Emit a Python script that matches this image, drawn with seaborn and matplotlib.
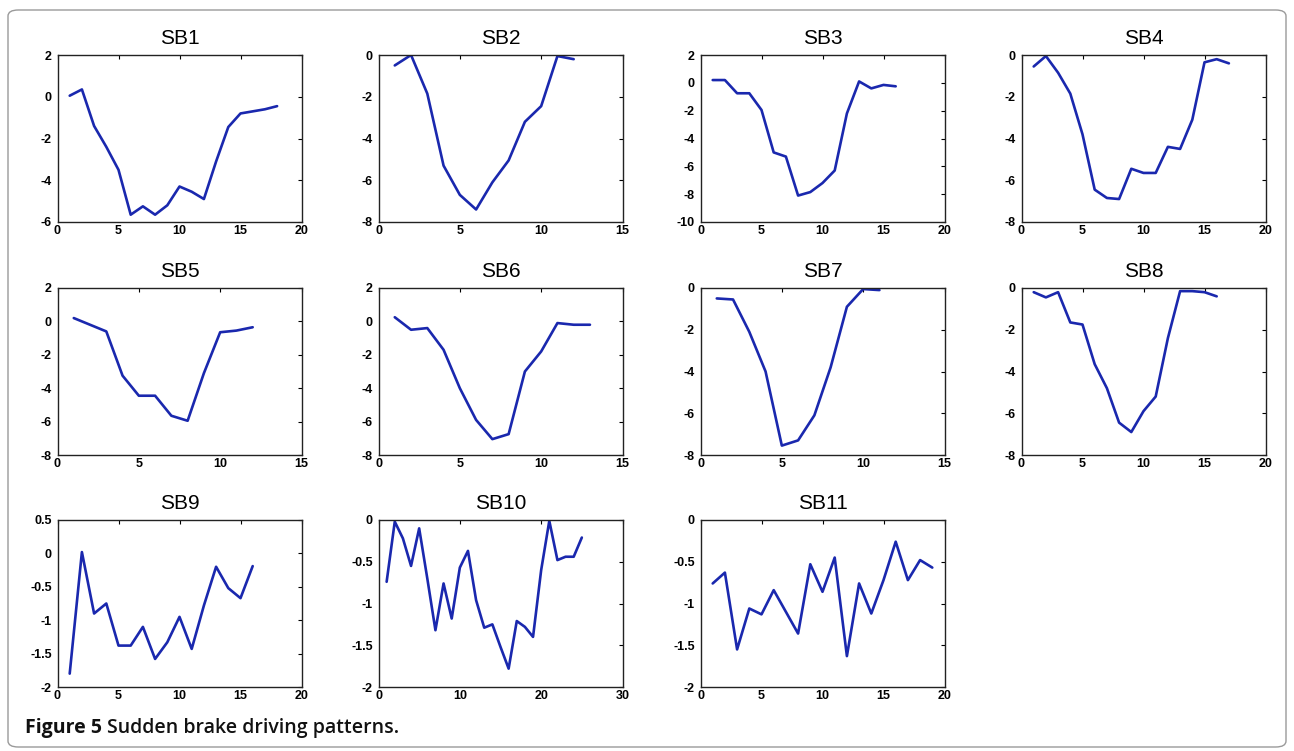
import numpy as np
import pandas as pd
import matplotlib
matplotlib.use("Agg")
import matplotlib.pyplot as plt
from matplotlib.patches import FancyBboxPatch
from matplotlib.ticker import FormatStrFormatter, MultipleLocator
import seaborn as sns

# Deceleration profiles of eleven sudden-brake events
sb1 = [0.05, 0.35, -1.4, -2.4, -3.5, -5.65, -5.25, -5.65, -5.2, -4.3, -4.55, -4.9,
       -3.1, -1.45, -0.8, -0.7, -0.6, -0.45]
sb2 = [-0.5, 0.0, -1.85, -5.3, -6.7, -7.4, -6.1, -5.05, -3.2, -2.45, -0.05, -0.2]
sb3 = [0.2, 0.2, -0.75, -0.75, -1.95, -5.0, -5.3, -8.1, -7.85, -7.2, -6.3, -2.2,
       0.1, -0.4, -0.15, -0.25]
sb4 = [-0.55, -0.05, -0.85, -1.85, -3.8, -6.45, -6.85, -6.9, -5.45, -5.65, -5.65,
       -4.4, -4.5, -3.1, -0.35, -0.2, -0.4]
sb5 = [0.2, -0.2, -0.6, -3.25, -4.45, -4.45, -5.65, -5.95, -3.1, -0.65, -0.55, -0.35]
sb6 = [0.25, -0.5, -0.4, -1.7, -4.0, -5.9, -7.05, -6.75, -3.0, -1.8, -0.1, -0.2, -0.2]
sb7 = [-0.5, -0.55, -2.1, -4.0, -7.55, -7.3, -6.1, -3.8, -0.9, -0.05, -0.1]
sb8 = [-0.2, -0.45, -0.2, -1.65, -1.75, -3.65, -4.8, -6.45, -6.9, -5.9, -5.2, -2.4,
       -0.15, -0.15, -0.2, -0.4]
sb9 = [-1.8, 0.02, -0.9, -0.75, -1.38, -1.38, -1.1, -1.58, -1.33, -0.95, -1.43,
       -0.78, -0.2, -0.52, -0.67, -0.19]
sb10 = [-0.74, -0.02, -0.22, -0.55, -0.1, -0.7, -1.32, -0.76, -1.18, -0.57, -0.37,
        -0.96, -1.29, -1.25, -1.52, -1.78, -1.21, -1.28, -1.4, -0.6, -0.01, -0.48,
        -0.44, -0.44, -0.21]
sb11 = [-0.76, -0.63, -1.55, -1.06, -1.13, -0.84, -1.1, -1.36, -0.53, -0.86, -0.45,
        -1.63, -0.76, -1.12, -0.72, -0.26, -0.72, -0.48, -0.57]

titles = ["SB1", "SB2", "SB3", "SB4", "SB5", "SB6", "SB7", "SB8", "SB9", "SB10", "SB11"]
series = [sb1, sb2, sb3, sb4, sb5, sb6, sb7, sb8, sb9, sb10, sb11]
x_max = [20, 15, 20, 20, 15, 15, 15, 20, 20, 30, 20]
y_lims = [(-6, 2), (-8, 0), (-10, 2), (-8, 0), (-8, 2), (-8, 2), (-8, 0), (-8, 0),
          (-2, 0.5), (-2, 0), (-2, 0)]
caption_bold = "Figure 5"
caption_text = "Sudden brake driving patterns."

sns.set_style("white")
plt.rcParams["font.family"] = ["Liberation Sans", "DejaVu Sans"]
plt.rcParams["axes.unicode_minus"] = False

W, H = 1294, 751
fig = plt.figure(figsize=(W / 100, H / 100), dpi=100)
fig.patch.set_facecolor("white")

col_left = [57.5, 378.5, 700.5, 1021.5]
row_top = [55, 288, 520]
ax_w, ax_h = 244, 167

line_color = "#1a28ae"

for i, (name, vals) in enumerate(zip(titles, series)):
    r, c = divmod(i, 4)
    left = col_left[c] / W
    bottom = 1 - (row_top[r] + ax_h) / H
    ax = fig.add_axes([left, bottom, ax_w / W, ax_h / H])
    df = pd.DataFrame({"t": np.arange(1, len(vals) + 1), "v": vals})
    sns.lineplot(data=df, x="t", y="v", ax=ax, color=line_color, linewidth=1.9)
    ax.set_xlim(0, x_max[i])
    ax.set_ylim(*y_lims[i])
    ax.xaxis.set_major_locator(MultipleLocator(10 if x_max[i] == 30 else 5))
    ystep = 0.5 if y_lims[i][0] == -2 else 2
    ax.yaxis.set_major_locator(MultipleLocator(ystep))
    ax.yaxis.set_major_formatter(FormatStrFormatter("%g"))
    ax.xaxis.set_major_formatter(FormatStrFormatter("%g"))
    ax.set_xlabel("")
    ax.set_ylabel("")
    ax.set_title(name, fontsize=15, pad=8, color="black")
    ax.tick_params(direction="in", length=3, width=0.8, top=True, right=True,
                   labelsize=9, colors="black", pad=2)
    ax.tick_params(axis="y", pad=4)
    for lbl in ax.get_xticklabels() + ax.get_yticklabels():
        lbl.set_fontweight("semibold")
    for sp in ax.spines.values():
        sp.set_visible(True)
        sp.set_color("#222222")
        sp.set_linewidth(1.0)

# Caption: bold label followed by the description
cap_y = 1 - 728 / H
t1 = fig.text(25 / W, cap_y, caption_bold, fontsize=14, fontweight="bold",
              family=["Open Sans", "DejaVu Sans"], va="center", ha="left", color="#111111")
renderer = fig.canvas.get_renderer()
bb = t1.get_window_extent(renderer=renderer)
fig.text((bb.x1 + 5) / W, cap_y, caption_text, fontsize=14, fontweight="semibold",
         family=["Open Sans", "DejaVu Sans"], va="center", ha="left", color="#111111")

# Rounded outer frame
frame = FancyBboxPatch((8 / W, 4 / H), (W - 16) / W, (H - 14) / H,
                       boxstyle="round,pad=0,rounding_size=0.008",
                       transform=fig.transFigure, fill=False,
                       edgecolor="#9a9a9a", linewidth=1.0)
fig.patches.append(frame)

fig.savefig("out.png", dpi=100, facecolor="white")
